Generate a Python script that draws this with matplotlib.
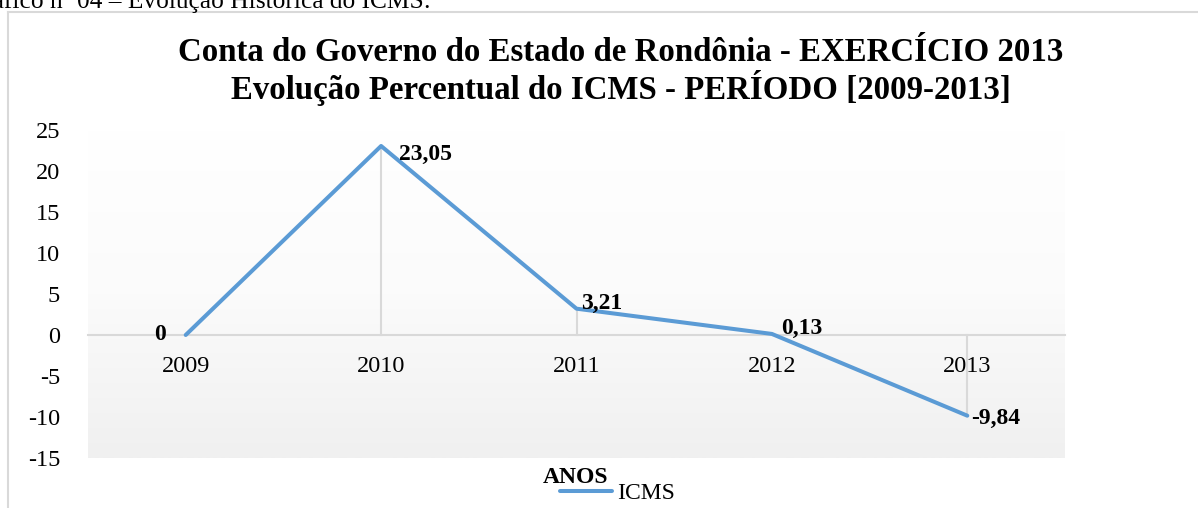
import matplotlib
matplotlib.use("Agg")
import matplotlib.pyplot as plt
import numpy as np
from matplotlib.lines import Line2D
from matplotlib.colors import LinearSegmentedColormap

years = ["2009", "2010", "2011", "2012", "2013"]
icms = [0, 23.05, 3.21, 0.13, -9.84]
labels = ["0", "23,05", "3,21", "0,13", "-9,84"]
yticks = [-15, -10, -5, 0, 5, 10, 15, 20, 25]

plt.rcParams['font.family'] = ['Liberation Serif', 'DejaVu Serif']

W, H = 1198, 508
fig = plt.figure(figsize=(W/100, H/100), dpi=100)

def fx(px):
    return px / W

def fy(py):
    return 1 - py / H

# outer frame
fig.add_artist(Line2D([fx(8), fx(8)], [fy(12), 0], color='#d9d9d9', lw=1.5, transform=fig.transFigure))
fig.add_artist(Line2D([fx(8), 1], [fy(12), fy(12)], color='#d9d9d9', lw=1.5, transform=fig.transFigure))

# clipped caption at top
fig.text(fx(431), fy(8), "Gráfico nº 04 – Evolução Histórica do ICMS:", ha='right', va='baseline',
         fontsize=18.3)

ax = fig.add_axes([fx(88), fy(458), fx(1065) - fx(88), fy(130) - fy(458)])
ax.set_xlim(-0.5, 4.5)
ax.set_ylim(-15, 25)

# gradient background
grad = np.linspace(0, 1, 256).reshape(-1, 1)
cmap = LinearSegmentedColormap.from_list('g', ['#ffffff', '#fbfbfb', '#f0f0f0'])
ax.imshow(grad, aspect='auto', cmap=cmap, extent=[0, 1, 0, 1], transform=ax.transAxes,
          origin='upper', zorder=0)

x = np.arange(len(years))
# drop lines
for xi, v in zip(x, icms):
    ax.plot([xi, xi], [0, v], color='#d9d9d9', lw=1.5, zorder=1)

line, = ax.plot(x, icms, color='#5b9bd5', lw=2.9, solid_capstyle='round', zorder=3)

for s in ['top', 'right', 'left']:
    ax.spines[s].set_visible(False)
ax.spines['bottom'].set_position(('data', 0))
ax.spines['bottom'].set_color('#d9d9d9')
ax.spines['bottom'].set_linewidth(1.5)
ax.spines['bottom'].set_zorder(2)

ax.set_xticks(x)
ax.set_xticklabels(years)
ax.set_yticks(yticks)
ax.set_yticklabels([str(t) for t in yticks])
ax.tick_params(axis='both', length=0, labelsize=17.5)
ax.tick_params(axis='x', pad=15)
ax.tick_params(axis='y', pad=20)

offsets = [(-20, 0, 'right', 'center'), (18, -8, 'left', 'center'), (5, 0, 'left', 'baseline'),
           (9, 0, 'left', 'baseline'), (4, -3, 'left', 'center')]
for xi, v, lab, (dx, dy, ha, va) in zip(x, icms, labels, offsets):
    ax.annotate(lab, (xi, v), xytext=(dx, dy), textcoords='offset pixels', ha=ha, va=va,
                fontsize=17, fontweight='bold', zorder=4)

fig.text(fx(621), fy(61), "Conta do Governo do Estado de Rondônia - EXERCÍCIO 2013", ha='center',
         va='baseline', fontsize=23.7, fontweight='bold')
fig.text(fx(621), fy(99), "Evolução Percentual do ICMS - PERÍODO [2009-2013]", ha='center',
         va='baseline', fontsize=23.7, fontweight='bold')

fig.text(fx(576), fy(483), "ANOS", ha='center', va='baseline', fontsize=17, fontweight='bold')
fig.add_artist(Line2D([fx(560), fx(612)], [fy(491), fy(491)], color='#5b9bd5', lw=2.9,
                      solid_capstyle='round', transform=fig.transFigure))
fig.text(fx(617), fy(499), "ICMS", ha='left', va='baseline', fontsize=17)

fig.savefig('out.png', dpi=100)
